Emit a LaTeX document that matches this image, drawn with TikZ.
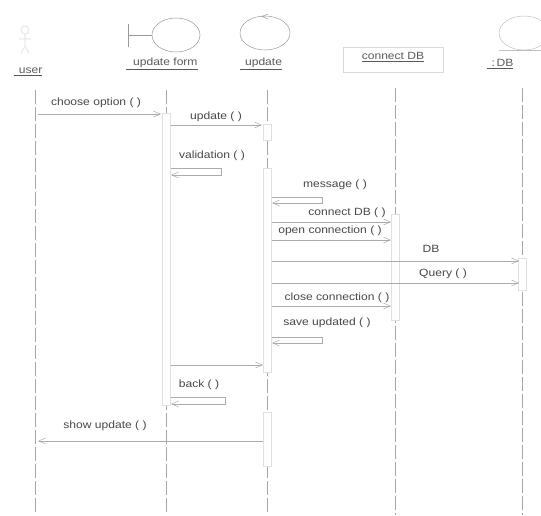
\documentclass[tikz,border=0pt]{standalone}
\usepackage{fontspec}
\setmainfont{Liberation Sans}[FakeStretch=1.15]
\usetikzlibrary{arrows.meta}
\begin{document}
\begin{tikzpicture}[x=1pt,y=-1pt,
  lbl/.style={inner sep=0pt,text=black!72,font=\fontsize{10.5}{12}\selectfont},
  head/.style={inner sep=0pt,text=black!65,font=\fontsize{10.5}{12}\selectfont},
  life/.style={draw=black!35,dash pattern=on 14pt off 3pt,line width=0.5pt},
  actbar/.style={draw=black!12,fill=white,line width=0.4pt},
  msg/.style={draw=black!33,line width=0.5pt,-{Straight Barb[length=7pt,width=6pt]}},
  iconline/.style={draw=black!40,line width=0.5pt}]
\useasboundingbox (0,0) rectangle (541,515);
\clip (0,0) rectangle (541,515);
% icons
\draw[draw=black!8,line width=1.2pt] (25,30) circle (4) (25,34) -- (25,46) (19,39) -- (31,39) (25,46) -- (21,53) (25,46) -- (29,53);
\draw[iconline] (128,24) -- (128,47) (128,35) -- (152,35);
\draw[iconline] (176,35) ellipse (24 and 17);
\draw[iconline] (265,33) ellipse (25 and 17);
\draw[iconline] (268,14) -- (262,16.5) -- (268,19);
\draw[draw=black!25,line width=0.5pt] (524,33) ellipse (25 and 17);
\draw[draw=black!25,line width=0.5pt] (499,50) -- (541,50);
% heads
\node[head] (user) at (28,72) {\underline{\ \,user}};
\node[head] (form) at (162,64) {\underline{\ \ update form}};
\node[head] (upd) at (261,64) {\underline{\ \,update}};
\node[draw=black!15,minimum width=100pt,minimum height=25pt,inner sep=0pt] (cdbbox) at (393,60) {};
\node[head] at (393,57) {\underline{connect DB}};
\node[head] (db) at (500,64) {\underline{\ \,:\,DB}};
% lifelines
\coordinate (uT) at (35,90);  \coordinate (uB) at (35,515);
\coordinate (fT) at (166,90); \coordinate (fB) at (166,515);
\coordinate (pT) at (267,90); \coordinate (pB) at (267,515);
\coordinate (cT) at (395,88); \coordinate (cB) at (395,515);
\coordinate (dT) at (522,88); \coordinate (dB) at (522,515);
\draw[life] (uT) -- (uB);
\draw[life] (fT) -- (fB);
\draw[life] (pT) -- (pB);
\draw[life] (cT) -- (cB);
\draw[life] (dT) -- (dB);
% activation bars
\draw[actbar] (162,113) rectangle (170,405);
\draw[actbar] (263,124) rectangle (271,140);
\draw[actbar] (263,168) rectangle (271,372);
\draw[actbar] (263,412) rectangle (271,466);
\draw[actbar] (391,214) rectangle (399,320);
\draw[actbar] (518,258) rectangle (526,290);
% messages
\coordinate (m1a) at (38,114);  \coordinate (m1b) at (161,114);
\draw[msg] (m1a) -- (m1b);
\node[lbl] at (96,103) {choose option ( )};
\coordinate (m2a) at (171,125); \coordinate (m2b) at (262,125);
\draw[msg] (m2a) -- (m2b);
\node[lbl] at (216,117) {update ( )};
\coordinate (m3a) at (171,168); \coordinate (m3b) at (171,175);
\draw[msg] (m3a) -- (221,168) -- (221,175) -- (m3b);
\node[lbl] at (212,156) {validation ( )};
\coordinate (m4a) at (272,197); \coordinate (m4b) at (272,203);
\draw[msg] (m4a) -- (322,197) -- (322,203) -- (m4b);
\node[lbl] at (335,185) {message ( )};
\coordinate (m5a) at (272,222); \coordinate (m5b) at (391,222);
\draw[msg] (m5a) -- (m5b);
\node[lbl] at (347,213) {connect DB ( )};
\coordinate (m6a) at (272,240); \coordinate (m6b) at (391,240);
\draw[msg] (m6a) -- (m6b);
\node[lbl] at (330,231) {open connection ( )};
\coordinate (m7a) at (272,261); \coordinate (m7b) at (519,261);
\draw[msg] (m7a) -- (m7b);
\node[lbl] at (431,249) {DB};
\coordinate (m8a) at (272,283); \coordinate (m8b) at (519,283);
\draw[msg] (m8a) -- (m8b);
\node[lbl] at (443,274) {Query ( )};
\coordinate (m9a) at (272,306); \coordinate (m9b) at (391,306);
\draw[msg] (m9a) -- (m9b);
\node[lbl] at (337,298) {close connection ( )};
\coordinate (m10a) at (272,337); \coordinate (m10b) at (272,343);
\draw[msg] (m10a) -- (322,337) -- (322,343) -- (m10b);
\node[lbl] at (327,323) {save updated ( )};
\coordinate (m11a) at (171,365); \coordinate (m11b) at (263,365);
\draw[msg] (m11a) -- (m11b);
\coordinate (m12a) at (171,397); \coordinate (m12b) at (171,404);
\draw[msg] (m12a) -- (225,397) -- (225,404) -- (m12b);
\node[lbl] at (199,385) {back ( )};
\coordinate (m13a) at (263,441); \coordinate (m13b) at (38,441);
\draw[msg] (m13a) -- (m13b);
\node[lbl] at (105,426) {show update ( )};
\end{tikzpicture}
\end{document}
